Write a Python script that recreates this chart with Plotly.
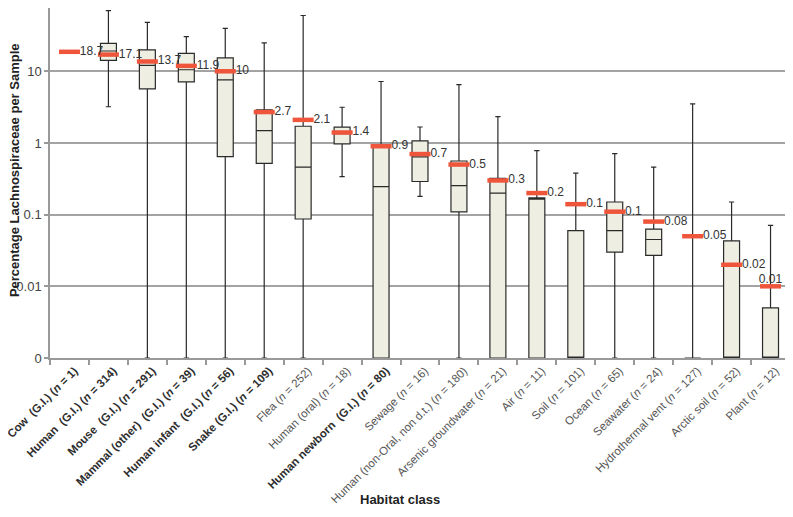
"""
Lachnospiraceae abundance per habitat class, box plot on a log axis
"""
import plotly.graph_objects as go

# habitat classes, sample counts, and which ones are printed bold
habitats = ['Cow  (G.I.)', 'Human  (G.I.)', 'Mouse  (G.I.)', 'Mammal (other)  (G.I.)',
            'Human infant  (G.I.)', 'Snake (G.I.)', 'Flea', 'Human (oral)',
            'Human newborn  (G.I.)', 'Sewage', 'Human (non-Oral, non d.t.)',
            'Arsenic groundwater', 'Air', 'Soil', 'Ocean', 'Seawater',
            'Hydrothermal vent', 'Arctic soil', 'Plant']
n_samples = [1, 314, 291, 39, 56, 109, 252, 18, 80, 16, 180, 21, 11, 101, 65, 24, 127, 52, 12]
bold = [True, True, True, True, True, True, False, False, True, False,
        False, False, False, False, False, False, False, False, False]

# box statistics (percent); None = no box drawn, 0 = bottom of axis
whisker_low = [None, 3.2, 0, 0, 0, 0, 0, 0.34, 0, 0.18, 0, 0, 0, 0, 0, 0, 0, 0, 0]
q1 = [None, 14.2, 5.7, 7.1, 0.645, 0.52, 0.087, 0.97, 0, 0.29, 0.109, 0, 0, 0, 0.030, 0.027, 0, 0, 0]
median = [None, 19.2, 12.1, 10.5, 7.6, 1.49, 0.46, 1.35, 0.246, 0.64, 0.254, 0.2, 0.165, 0, 0.06, 0.045, 0, 0, 0]
q3 = [None, 24.5, 19.9, 17.8, 15.4, 2.89, 1.71, 1.66, 0.87, 1.07, 0.56, 0.32, 0.171, 0.06, 0.15, 0.063, 0, 0.043, 0.005]
whisker_high = [None, 70, 48, 30.5, 39.8, 24.9, 60, 3.15, 7.2, 1.67, 6.5, 2.33, 0.78, 0.38, 0.71, 0.46, 3.5, 0.15, 0.071]

# means (red bars) and their printed labels
means = [18.7, 17.1, 13.7, 11.9, 10, 2.7, 2.1, 1.4, 0.9, 0.7, 0.5, 0.3, 0.2, 0.14, 0.11, 0.08, 0.05, 0.02, 0.01]
mean_labels = ['18.7', '17.1', '13.7', '11.9', '10', '2.7', '2.1', '1.4', '0.9', '0.7',
               '0.5', '0.3', '0.2', '0.1', '0.1', '0.08', '0.05', '0.02', '0.01']

FLOOR = 0.001  # "0" on the log axis
FONT = "Liberation Sans, Arial, sans-serif"


def floor(v):
    return FLOOR if v == 0 else v


tick_text = []
for name, n, b in zip(habitats, n_samples, bold):
    label = f"{name.replace('  ', '&nbsp; ')} (<i>n</i> = {n})"
    if b:
        tick_text.append(f"<b><span style='color:#2e2e2e'>{label}</span></b>")
    else:
        tick_text.append(f"<span style='color:#555'>{label}</span>")

idx = [i for i, v in enumerate(q1) if v is not None]

fig = go.Figure()

fig.add_trace(go.Box(
    x=[habitats[i] for i in idx],
    q1=[floor(q1[i]) for i in idx],
    median=[floor(median[i]) for i in idx],
    q3=[floor(q3[i]) for i in idx],
    lowerfence=[floor(whisker_low[i]) for i in idx],
    upperfence=[floor(whisker_high[i]) for i in idx],
    width=0.41,
    whiskerwidth=0.33,
    fillcolor='#eeeee2',
    line=dict(color='#2a2a2a', width=1.2),
    hoverinfo='skip',
    showlegend=False
))

fig.add_trace(go.Scatter(
    x=habitats,
    y=means,
    mode='markers+text',
    marker=dict(symbol='line-ew-open', size=15, line=dict(color='#e4313a', width=4.5)),
    text=mean_labels[:-1] + [''],
    textposition='middle right',
    textfont=dict(family=FONT, size=12, color='#333333'),
    hoverinfo='skip',
    showlegend=False,
    cliponaxis=False
))

# last label sits just above its bar, at the right edge of the chart
fig.add_trace(go.Scatter(
    x=habitats[-1:],
    y=means[-1:],
    mode='text',
    text=mean_labels[-1:],
    textposition='top center',
    textfont=dict(family=FONT, size=12, color='#333333'),
    hoverinfo='skip',
    showlegend=False,
    cliponaxis=False
))

# the page has an 8px body margin, so the figure is sized to sit inside the window
fig.update_layout(
    width=785, height=509,
    margin=dict(l=42, r=3, t=0, b=159),
    plot_bgcolor='white', paper_bgcolor='white',
    font=dict(family=FONT, size=12, color='#222222'),
    xaxis=dict(
        type='category', automargin=False,
        categoryorder='array', categoryarray=habitats,
        tickmode='array', tickvals=habitats, ticktext=tick_text,
        tickangle=-45, tickson='boundaries', ticklabelshift=5,
        ticks='outside', ticklen=5, tickcolor='#999999', tickwidth=1.5,
        showline=True, linecolor='#999999', linewidth=1.5,
        showgrid=False, range=[-0.5, 18.5],
        tickfont=dict(family=FONT, size=11.5)
    ),
    yaxis=dict(
        type='log', range=[-3, 1.883], automargin=False,
        tickmode='array', tickvals=[0.001, 0.01, 0.1, 1, 10],
        ticktext=['0', '0.01', '0.1', '1', '10'],
        ticks='outside', ticklen=4, tickcolor='#999999', tickwidth=1.5,
        showgrid=True, gridcolor='#a3a3a3', gridwidth=1.5,
        showline=True, linecolor='#999999', linewidth=1.5,
        zeroline=False, tickfont=dict(family=FONT, size=13, color='#444444')
    ),
    annotations=[
        dict(text='<b>Habitat class</b>', xref='paper', yref='paper',
             x=0.473, y=-0.403, xanchor='center', yanchor='middle',
             showarrow=False, font=dict(size=13)),
        dict(text='<b>Percentage Lachnospiraceae per Sample</b>', xref='paper', yref='paper',
             x=-0.0486, y=0.537, xanchor='center', yanchor='middle', textangle=-90,
             showarrow=False, font=dict(size=13))
    ]
)

fig.write_html("out.html")
